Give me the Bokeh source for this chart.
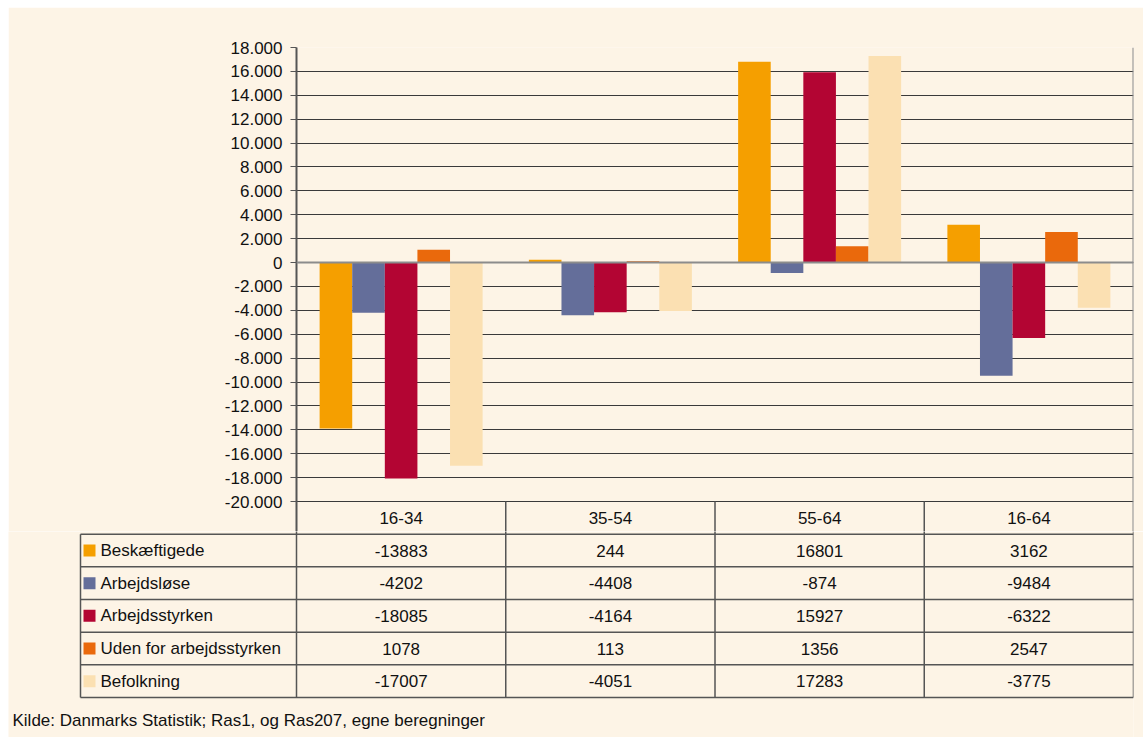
from bokeh.plotting import figure
from bokeh.layouts import column
from bokeh.models import Range1d, FixedTicker, Span
from bokeh.core.properties import value
from bokeh.embed import file_html
from bokeh.resources import INLINE

# ---- data ----
categories = ["16-34", "35-54", "55-64", "16-64"]
series_names = ["Beskæftigede", "Arbejdsløse", "Arbejdsstyrken",
                "Uden for arbejdsstyrken", "Befolkning"]
beskaeftigede = [-13883, 244, 16801, 3162]
arbejdsloese = [-4202, -4408, -874, -9484]
arbejdsstyrken = [-18085, -4164, 15927, -6322]
uden_for = [1078, 113, 1356, 2547]
befolkning = [-17007, -4051, 17283, -3775]
y_ticks = list(range(-20000, 18001, 2000))
source_text = "Kilde: Danmarks Statistik; Ras1, og Ras207, egne beregninger"

series_values = [beskaeftigede, arbejdsloese, arbejdsstyrken, uden_for, befolkning]
colors = ["#F59F00", "#646E9A", "#B30533", "#EA690C", "#FBE0B2"]

BG = "#FDF4E6"
FONT = "Liberation Sans"
FS = "17px"
LINE = "#555555"
TXT = "#111111"

# ---- layout constants (picture pixels) ----
CANVAS_X, CANVAS_Y = 8, 7
W = 1143 - CANVAS_X
FRAME_L, FRAME_R = 296, 1133
FRAME_T, AX_B, SPLIT = 47, 501, 531
TABLE_B = 697
UNIT = (FRAME_R - FRAME_L) / len(categories)
BW = 32.6 / UNIT
Y_MIN, Y_MAX = -20000, 18000
PX_PER_VAL = (AX_B - FRAME_T) / (Y_MAX - Y_MIN)
Y_LOW = Y_MIN - (SPLIT - AX_B) / PX_PER_VAL
ROWH = (TABLE_B - AX_B) / 6

# ---- chart (incl. the header row of the table) ----
p = figure(width=W, height=SPLIT - CANVAS_Y, x_range=Range1d(0, len(categories)),
           y_range=Range1d(Y_LOW, Y_MAX), x_axis_location=None,
           output_backend="svg", toolbar_location=None,
           min_border_left=FRAME_L - CANVAS_X, min_border_right=1143 - FRAME_R,
           min_border_top=FRAME_T - CANVAS_Y, min_border_bottom=0,
           background_fill_color=BG, border_fill_color=BG,
           outline_line_color=None, frame_align=False)
p.xgrid.visible = False
p.yaxis.ticker = FixedTicker(ticks=y_ticks)
p.ygrid.ticker = FixedTicker(ticks=y_ticks)
p.yaxis.major_label_overrides = {t: f"{t:,}".replace(",", ".") for t in y_ticks}
p.yaxis.major_label_text_font = FONT
p.yaxis.major_label_text_font_size = FS
p.yaxis.major_label_text_color = TXT
p.yaxis.major_tick_out = 6
p.yaxis.major_tick_in = 0
p.yaxis.minor_tick_line_color = None
p.yaxis.axis_line_width = 2
p.yaxis.axis_line_color = LINE
p.yaxis.major_tick_line_color = LINE
p.yaxis.major_label_standoff = 8
p.ygrid.grid_line_color = "#3a3a3a"
p.ygrid.grid_line_width = 1

for k, (vals, col) in enumerate(zip(series_values, colors)):
    xs = [i + 0.5 + (k - 2) * BW for i in range(len(categories))]
    p.vbar(x=xs, top=vals, bottom=0, width=BW, fill_color=col, line_color=None)

p.add_layout(Span(location=0, dimension="width", line_color="#8c8c8c", line_width=2))
# right edge of plot area and table column lines through the header row
p.segment(x0=[len(categories)], y0=[Y_LOW], x1=[len(categories)], y1=[Y_MAX],
          line_color="#8a8a8a", line_width=2)
p.segment(x0=[1, 2, 3], y0=[Y_LOW] * 3, x1=[1, 2, 3], y1=[Y_MIN] * 3,
          line_color=LINE, line_width=1.5)
p.text(x=[i + 0.5 for i in range(len(categories))],
       y=[Y_MIN - (ROWH / 2) / PX_PER_VAL] * len(categories),
       text=categories, text_align="center", text_baseline="middle",
       text_font=value(FONT), text_font_size=FS, text_color=TXT)

# ---- data table ----
x_min = -(FRAME_L - CANVAS_X) / UNIT
x_tab = -(FRAME_L - 80) / UNIT
t = figure(width=W, height=737 - SPLIT, x_range=Range1d(x_min, len(categories)),
           y_range=Range1d((737 - AX_B) / ROWH, (SPLIT - AX_B) / ROWH),
           x_axis_location=None, y_axis_location=None,
           output_backend="svg", toolbar_location=None,
           min_border_left=0, min_border_right=1143 - FRAME_R,
           min_border_top=0, min_border_bottom=0,
           background_fill_color=BG, border_fill_color=BG, outline_line_color=None,
           frame_align=False)
t.grid.visible = False

nrows = len(series_names) + 1
x0s, y0s, x1s, y1s = [], [], [], []
for r in range(1, nrows + 1):
    x0s.append(x_tab); y0s.append(r); x1s.append(len(categories)); y1s.append(r)
x0s.append(x_tab); y0s.append(1); x1s.append(x_tab); y1s.append(nrows)
for c in range(len(categories) + 1):
    x0s.append(c); y0s.append(0); x1s.append(c); y1s.append(nrows)
t.segment(x0=x0s, y0=y0s, x1=x1s, y1=y1s, line_color=LINE, line_width=1.5)

for k, (name, vals, col) in enumerate(zip(series_names, series_values, colors)):
    yk = k + 1.5
    t.scatter(x=[x_tab + 9 / UNIT], y=[yk], marker="square", size=12,
              fill_color=col, line_color=None)
    t.text(x=[x_tab + 20 / UNIT], y=[yk], text=[name], text_align="left",
           text_baseline="middle", text_font=value(FONT), text_font_size=FS,
           text_color=TXT)
    t.text(x=[i + 0.5 for i in range(len(categories))], y=[yk] * len(vals),
           text=[str(v) for v in vals], text_align="center", text_baseline="middle",
           text_font=value(FONT), text_font_size=FS, text_color=TXT)

t.text(x=[x_min + 4 / UNIT], y=[nrows + 23 / ROWH], text=[source_text],
       text_align="left", text_baseline="middle", text_font=value(FONT),
       text_font_size=FS, text_color=TXT)

layout = column(p, t, spacing=0, margin=(CANVAS_Y, 0, 0, CANVAS_X))
open("out.html", "w").write(file_html(layout, INLINE))
